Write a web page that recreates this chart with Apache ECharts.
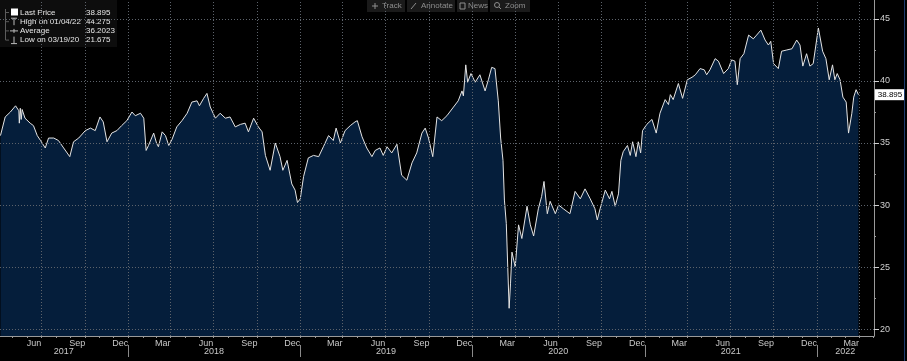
<!DOCTYPE html>
<html><head><meta charset="utf-8">
<script src="https://cdn.jsdelivr.net/npm/echarts@6/dist/echarts.min.js"></script>
<style>html,body{margin:0;padding:0;background:#000}#c{width:907px;height:361px}</style>
</head><body><div id="c"></div>
<script>
const dates = [
'2017-04-05','2017-04-15','2017-04-26','2017-05-07','2017-05-09','2017-05-14','2017-05-15','2017-05-17','2017-05-19','2017-05-21',
'2017-05-27','2017-06-07','2017-06-14','2017-06-22','2017-06-29','2017-07-09','2017-07-16','2017-07-27','2017-08-06','2017-08-17',
'2017-08-30','2017-09-07','2017-09-18','2017-10-02','2017-10-13','2017-10-23','2017-11-02','2017-11-09','2017-11-17','2017-11-27',
'2017-12-08','2017-12-18','2017-12-29',
'2018-01-09','2018-01-16','2018-01-27','2018-02-03','2018-02-08','2018-02-13','2018-02-24','2018-03-02','2018-03-06','2018-03-14',
'2018-03-21','2018-03-28','2018-04-04','2018-04-14','2018-04-25','2018-05-06','2018-05-16','2018-05-27','2018-06-01','2018-06-10',
'2018-06-17','2018-06-24','2018-07-05','2018-07-15','2018-07-26','2018-08-05','2018-08-16','2018-08-27','2018-09-06','2018-09-13',
'2018-09-24','2018-10-04','2018-10-12','2018-10-19','2018-10-29','2018-11-09','2018-11-19','2018-11-25','2018-12-04','2018-12-14',
'2018-12-21','2018-12-26','2019-01-01',
'2019-01-08','2019-01-18','2019-01-29','2019-02-09','2019-02-19','2019-03-02','2019-03-12','2019-03-18','2019-03-27','2019-04-06',
'2019-04-17','2019-04-27','2019-05-02','2019-05-12','2019-05-22','2019-06-02','2019-06-09','2019-06-19','2019-06-26','2019-07-04',
'2019-07-14','2019-07-25','2019-08-04','2019-08-15','2019-08-26','2019-09-05','2019-09-16','2019-09-23','2019-09-30','2019-10-09',
'2019-10-18','2019-10-28','2019-11-08','2019-11-22','2019-12-02','2019-12-10','2019-12-13','2019-12-18','2019-12-22','2019-12-29',
'2020-01-07','2020-01-17','2020-01-28','2020-02-04','2020-02-11','2020-02-18','2020-02-25','2020-03-01','2020-03-06','2020-03-09',
'2020-03-13','2020-03-19','2020-03-22','2020-03-25','2020-04-01','2020-04-08','2020-04-15','2020-04-26','2020-05-03','2020-05-10',
'2020-05-20','2020-05-27','2020-06-01','2020-06-08','2020-06-14','2020-06-25','2020-07-02','2020-07-12','2020-07-26','2020-08-06',
'2020-08-17','2020-08-27','2020-09-07','2020-09-17','2020-09-22','2020-09-28','2020-10-09','2020-10-18','2020-10-23','2020-10-30',
'2020-11-06','2020-11-11','2020-11-16','2020-11-25','2020-12-01','2020-12-06','2020-12-13','2020-12-18','2020-12-23','2020-12-27',
'2021-01-05','2021-01-16','2021-01-25','2021-02-02','2021-02-13','2021-02-20','2021-02-24','2021-03-02','2021-03-13','2021-03-22',
'2021-04-01','2021-04-11','2021-04-18','2021-04-28','2021-05-07','2021-05-12','2021-05-19','2021-05-30','2021-06-06','2021-06-17',
'2021-06-27','2021-07-04','2021-07-11','2021-07-16','2021-07-22','2021-07-30','2021-08-09','2021-08-19','2021-08-26','2021-09-04',
'2021-09-13','2021-09-20','2021-09-25','2021-10-01','2021-10-11','2021-10-18','2021-10-29','2021-11-09','2021-11-19','2021-11-26',
'2021-12-02','2021-12-10','2021-12-17','2021-12-24',
'2022-01-04','2022-01-13','2022-01-20','2022-01-27','2022-02-03','2022-02-08','2022-02-13','2022-02-19','2022-02-25','2022-03-04',
'2022-03-09','2022-03-16','2022-03-20','2022-03-25','2022-03-30'
];
const prices = [
35.6,37.1,37.5,38.0,38.1,37.6,36.6,37.8,36.9,37.7,
37.0,36.6,36.4,35.6,35.2,34.6,35.4,35.4,35.2,34.6,
33.9,35.1,35.4,36.0,36.2,36.0,37.1,36.7,35.1,35.8,
36.0,36.4,36.8,
37.5,37.2,37.4,37.0,34.4,34.8,35.8,35.0,34.7,35.9,
35.6,34.8,35.3,36.3,36.8,37.4,38.3,38.4,38.0,38.6,
39.0,37.9,37.0,37.4,37.0,37.1,36.3,36.5,36.6,35.9,
37.0,36.3,35.9,34.0,32.8,35.0,33.9,32.8,33.6,31.7,
31.2,30.2,30.5,
32.3,33.8,34.0,33.9,34.7,35.6,35.2,36.2,35.0,36.0,
36.4,36.7,36.8,35.5,34.6,33.9,34.4,34.6,34.0,34.7,
34.2,34.9,32.4,32.0,33.4,34.2,35.8,36.2,35.4,33.9,
37.1,36.8,37.2,37.9,38.4,39.2,38.8,41.3,39.9,40.6,
39.9,40.5,39.2,40.1,41.1,41.0,38.4,35.4,33.6,30.4,
28.5,21.675,23.7,26.2,25.0,28.4,27.3,29.9,28.4,27.5,
29.7,30.7,31.9,29.3,30.3,29.3,30.0,29.7,29.3,31.1,
30.5,31.3,30.5,29.7,28.8,29.7,31.2,30.5,31.1,29.9,
30.9,33.6,34.3,34.8,34.0,35.1,33.9,35.1,34.2,36.0,
36.5,36.9,35.8,37.4,38.5,38.1,38.9,38.5,39.8,38.6,
40.1,40.3,40.5,41.0,40.9,40.5,40.9,41.8,41.6,40.6,
41.0,41.7,41.6,39.7,41.8,42.2,43.7,43.4,43.7,44.1,
43.3,42.9,43.2,41.4,41.0,42.4,42.5,42.6,43.3,42.9,
41.2,42.2,41.2,41.4,
44.275,42.4,41.8,40.1,41.3,40.1,40.6,40.1,38.7,38.3,
35.8,37.4,38.7,39.3,38.895
];
const yTickValues = [20, 25, 30, 35, 40, 45];
const yMinorTickValues = [22.5, 27.5, 32.5, 37.5, 42.5];
const monthNames = ['Jan','Feb','Mar','Apr','May','Jun','Jul','Aug','Sep','Oct','Nov','Dec'];
const monthLabelDates = ['2017-06-15','2017-09-15','2017-12-15','2018-03-15','2018-06-15','2018-09-15','2018-12-15',
  '2019-03-15','2019-06-15','2019-09-15','2019-12-15','2020-03-15','2020-06-15','2020-09-15','2020-12-15',
  '2021-03-15','2021-06-15','2021-09-15','2021-12-15','2022-03-15'];
const yearLabelDates = ['2017-08-17','2018-07-02','2019-07-02','2020-07-01','2021-07-02','2022-03-02'];
const yearSeparatorDates = ['2018-01-01','2019-01-01','2020-01-01','2021-01-01','2022-01-01'];
const legendLabels = ['Last Price','High on 01/04/22','Average','Low on 03/19/20'];
const legendValues = ['38.895','44.275','36.2023','21.675'];
const toolbarItems = ['Track','Annotate','News','Zoom'];
const axisStart = '2017-04-04', axisEnd = '2022-05-02';
const yMin = 19.44, yMax = 46.53;

const ts = s => { const p = s.split('-').map(Number); return new Date(p[0], p[1]-1, p[2]).getTime(); };
const monthStarts = [];
for (let y = 2017; y <= 2022; y++) for (let m = 1; m <= 12; m++) {
  const s = y + '-' + String(m).padStart(2,'0') + '-01';
  if (s > axisStart && s <= axisEnd) monthStarts.push(s);
}
const quarterStarts = monthStarts.filter(s => ['01','04','07','10'].includes(s.slice(5,7)));

const FONT = 'Liberation Sans';
const gridStyle = { color: '#5d636b', type: [1, 2], width: 1 };
const seriesData = dates.map((d, i) => [ts(d), prices[i]]);
const last = prices[prices.length - 1];
const xMin = ts(axisStart), xMax = ts(axisEnd);

const chart = echarts.init(document.getElementById('c'), null, { renderer: 'canvas' });

const legendGraphics = [{ type: 'rect', shape: { x: 0, y: 0, width: 117, height: 47 }, style: { fill: '#0d0d0d' } },
  { type: 'line', shape: { x1: 5.5, y1: 9, x2: 5.5, y2: 40 }, style: { stroke: '#5c5c5c', lineWidth: 1 } }];
legendLabels.forEach((lab, i) => {
  const y = 12.5 + i * 9.2;
  legendGraphics.push({ type: 'line', shape: { x1: 5.5, y1: y, x2: 9, y2: y }, style: { stroke: '#5c5c5c' } });
  if (i === 0) legendGraphics.push({ type: 'rect', shape: { x: 11, y: y - 4, width: 7, height: 7 }, style: { fill: '#ffffff' } });
  if (i === 1) { legendGraphics.push({ type: 'line', shape: { x1: 11, y1: y - 3.5, x2: 17, y2: y - 3.5 }, style: { stroke: '#bbb' } });
                 legendGraphics.push({ type: 'line', shape: { x1: 14, y1: y - 3.5, x2: 14, y2: y + 3.5 }, style: { stroke: '#bbb' } }); }
  if (i === 2) { legendGraphics.push({ type: 'line', shape: { x1: 10, y1: y, x2: 18, y2: y }, style: { stroke: '#bbb' } });
                 legendGraphics.push({ type: 'line', shape: { x1: 14, y1: y - 2, x2: 14, y2: y + 2 }, style: { stroke: '#bbb' } }); }
  if (i === 3) { legendGraphics.push({ type: 'line', shape: { x1: 14, y1: y - 3.5, x2: 14, y2: y + 3.5 }, style: { stroke: '#bbb' } });
                 legendGraphics.push({ type: 'line', shape: { x1: 11, y1: y + 3.5, x2: 17, y2: y + 3.5 }, style: { stroke: '#bbb' } }); }
  legendGraphics.push({ type: 'text', x: 20, y: y, style: { text: lab, fill: '#e6e6e6', font: '8px "' + FONT + '"', verticalAlign: 'middle' } });
  legendGraphics.push({ type: 'text', x: 86, y: y, style: { text: legendValues[i], fill: '#e6e6e6', font: '8px "' + FONT + '"', verticalAlign: 'middle' } });
});

const tbBoxes = [[367, 38], [407, 48], [457, 31], [490, 40]];
const tbTextX = [382, 421, 468, 505];
const tbGraphics = [];
toolbarItems.forEach((t, i) => {
  tbGraphics.push({ type: 'rect', shape: { x: tbBoxes[i][0], y: 0, width: tbBoxes[i][1], height: 12 }, style: { fill: '#1a1a1a' } });
  tbGraphics.push({ type: 'text', x: tbTextX[i], y: 6, style: { text: t, fill: '#8e8e8e', font: '8px "' + FONT + '"', verticalAlign: 'middle' } });
});
tbGraphics.push({ type: 'line', shape: { x1: 372, y1: 6, x2: 378, y2: 6 }, style: { stroke: '#8e8e8e' } });
tbGraphics.push({ type: 'line', shape: { x1: 375, y1: 3, x2: 375, y2: 9 }, style: { stroke: '#8e8e8e' } });
tbGraphics.push({ type: 'line', shape: { x1: 411, y1: 9, x2: 416, y2: 3 }, style: { stroke: '#8e8e8e' } });
tbGraphics.push({ type: 'rect', shape: { x: 460, y: 3, width: 5, height: 6 }, style: { fill: 'none', stroke: '#8e8e8e' } });
tbGraphics.push({ type: 'circle', shape: { cx: 497, cy: 5, r: 2.5 }, style: { fill: 'none', stroke: '#8e8e8e' } });
tbGraphics.push({ type: 'line', shape: { x1: 499, y1: 7, x2: 501, y2: 9 }, style: { stroke: '#8e8e8e' } });

const gridMarkLines = yTickValues.map(v => ({ yAxis: v })).concat(quarterStarts.map(s => ({ xAxis: ts(s) })));

const option = {
  backgroundColor: '#000000',
  animation: false,
  grid: { left: 0, right: 33, top: 0, bottom: 25, containLabel: false },
  xAxis: [
    { type: 'value', min: xMin, max: xMax, position: 'bottom',
      axisLine: { show: true, lineStyle: { color: '#9a9a9a', width: 1 } },
      axisTick: { show: true, customValues: monthStarts.map(ts), length: 2, lineStyle: { color: '#9a9a9a' } },
      axisLabel: { show: true, customValues: monthLabelDates.map(ts), margin: 3, color: '#c8c8c8', fontSize: 9, fontFamily: FONT,
        formatter: v => monthNames[new Date(v).getMonth()] },
      splitLine: { show: false } },
    { type: 'value', min: xMin, max: xMax, position: 'bottom', offset: 9,
      axisLine: { show: false },
      axisTick: { show: true, customValues: yearSeparatorDates.map(ts), length: 12, lineStyle: { color: '#8a8a8a' } },
      axisLabel: { show: true, customValues: yearLabelDates.map(ts), margin: 2, color: '#c8c8c8', fontSize: 9, fontFamily: FONT,
        formatter: v => String(new Date(v).getFullYear()) },
      splitLine: { show: false } }
  ],
  yAxis: [
    { type: 'value', position: 'right', min: yMin, max: yMax,
      axisLine: { show: true, lineStyle: { color: '#9a9a9a', width: 1 } },
      axisTick: { show: true, customValues: yTickValues, length: 5, lineStyle: { color: '#d0d0d0' } },
      axisLabel: { show: true, customValues: yTickValues, margin: 6, color: '#d0d0d0', fontSize: 9, fontFamily: FONT },
      splitLine: { show: false } },
    { type: 'value', position: 'right', min: yMin, max: yMax,
      axisLine: { show: false },
      axisTick: { show: true, customValues: yMinorTickValues, length: 2, lineStyle: { color: '#9a9a9a' } },
      axisLabel: { show: false }, splitLine: { show: false } }
  ],
  series: [{
    type: 'line', xAxisIndex: 0, yAxisIndex: 0, data: seriesData,
    showSymbol: false, symbol: 'none',
    lineStyle: { color: '#e4e4e4', width: 1 },
    areaStyle: { color: '#051e3b', opacity: 1, origin: 'start' },
    markLine: {
      silent: true, symbol: ['none', 'none'], animation: false,
      label: { show: false }, lineStyle: gridStyle, emphasis: { disabled: true },
      data: gridMarkLines
    },
    markPoint: {
      silent: true,
      data: [{ coord: [xMax, last], symbol: 'rect', symbolSize: [30, 11], symbolOffset: [16, 0],
        itemStyle: { color: '#ffffff' },
        label: { show: true, position: 'inside', formatter: last.toFixed(3), color: '#000', fontSize: 8, fontFamily: FONT } }]
    }
  }],
  graphic: [
    ...legendGraphics,
    ...tbGraphics,
    { type: 'line', shape: { x1: 904.5, y1: 0, x2: 904.5, y2: 361 }, style: { stroke: '#1d3c6e', lineWidth: 1 }, z: 100 }
  ]
};
chart.setOption(option);
</script></body></html>
